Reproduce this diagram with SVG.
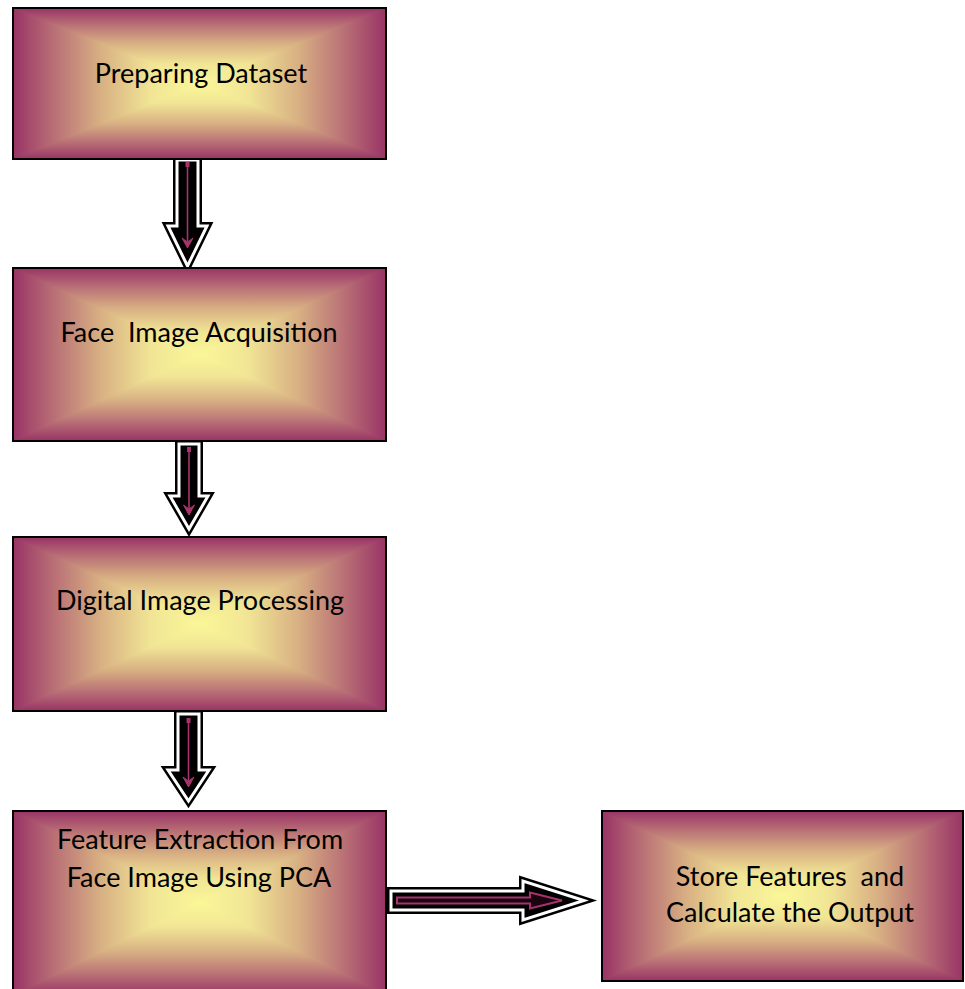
<svg xmlns="http://www.w3.org/2000/svg" xmlns:xlink="http://www.w3.org/1999/xlink" width="965" height="989" viewBox="0 0 965 989">
  <defs>
    <!-- rectangular (path) gradient: plum at the edges, pale yellow in the middle.
         Coordinates are in the 100x100 space of the boxFill symbol. -->
    <linearGradient id="gT" gradientUnits="userSpaceOnUse" x1="0" y1="0" x2="0" y2="50">
      <stop offset="0" stop-color="#993366"/>
      <stop offset="0.2" stop-color="#B66A74"/>
      <stop offset="0.47" stop-color="#D8B083"/>
      <stop offset="0.74" stop-color="#F1E595"/>
      <stop offset="1" stop-color="#FAF798"/>
    </linearGradient>
    <linearGradient id="gB" gradientUnits="userSpaceOnUse" x1="0" y1="100" x2="0" y2="50" xlink:href="#gT"/>
    <linearGradient id="gL" gradientUnits="userSpaceOnUse" x1="0" y1="0" x2="50" y2="0" xlink:href="#gT"/>
    <linearGradient id="gR" gradientUnits="userSpaceOnUse" x1="100" y1="0" x2="50" y2="0" xlink:href="#gT"/>
    <symbol id="boxFill" viewBox="0 0 100 100" preserveAspectRatio="none">
      <!-- top and bottom halves, then the side wedges laid over them -->
      <rect x="0" y="0" width="100" height="51" fill="url(#gT)"/>
      <rect x="0" y="49" width="100" height="51" fill="url(#gB)"/>
      <polygon points="0,0 0,100 50,50" fill="url(#gL)"/>
      <polygon points="100,0 100,100 50,50" fill="url(#gR)"/>
    </symbol>
  </defs>
  <style>
    .frame { fill: none; stroke: #000; stroke-width: 2; }
    .label { font-family: Lato, "Liberation Sans", sans-serif; font-size: 27px; fill: #000; text-anchor: middle; }
    .arrowOuter { fill: #000; stroke: #000; stroke-width: 8; stroke-linejoin: miter; }
    .arrowWhite { fill: none; stroke: #fff; stroke-width: 3; stroke-linejoin: miter; }
    .core { fill: none; stroke: #A8336C; stroke-width: 1.6; }
    .coreHead { fill: #A8336C; stroke: #A8336C; stroke-width: 1; }
    .coreOutline { fill: #1a0410; stroke: #A8336C; stroke-width: 2; }
  </style>
  <rect width="965" height="989" fill="#fff"/>

  <!-- connectors -->
  <g id="connectors">
    <!-- Preparing Dataset -> Face Image Acquisition -->
    <g id="c1">
      <polygon class="arrowOuter" points="177,160 198,160 198,226 207,226 187.5,266 168,226 177,226"/>
      <polygon class="arrowWhite" points="177,160 198,160 198,226 207,226 187.5,266 168,226 177,226"/>
      <rect x="185.5" y="162" width="4" height="5" fill="#A8336C"/>
      <line class="core" x1="187.5" y1="166" x2="187.5" y2="246"/>
      <polygon class="coreHead" points="182,238 187.5,248 193,238 187.5,242"/>
    </g>
    <!-- Face Image Acquisition -> Digital Image Processing -->
    <g id="c2">
      <polygon class="arrowOuter" points="179,444 199,444 199,496 208,496 189,529 170,496 179,496"/>
      <polygon class="arrowWhite" points="179,444 199,444 199,496 208,496 189,529 170,496 179,496"/>
      <rect x="187" y="447" width="4" height="5" fill="#A8336C"/>
      <line class="core" x1="189" y1="451" x2="189" y2="513"/>
      <polygon class="coreHead" points="183.5,505 189,515 194.5,505 189,509"/>
    </g>
    <!-- Digital Image Processing -> Feature Extraction -->
    <g id="c3">
      <polygon class="arrowOuter" points="178,714 199,714 199,770 209,770 188.5,801 168,770 178,770"/>
      <polygon class="arrowWhite" points="178,714 199,714 199,770 209,770 188.5,801 168,770 178,770"/>
      <rect x="186.5" y="718" width="4" height="5" fill="#A8336C"/>
      <line class="core" x1="188.5" y1="722" x2="188.5" y2="785"/>
      <polygon class="coreHead" points="183,777 188.5,787 194,777 188.5,781"/>
    </g>
    <!-- Feature Extraction -> Store Features -->
    <g id="c4">
      <polygon class="arrowOuter" points="391,891 523,891 523,881 584,900.5 523,920 523,910 391,910"/>
      <polygon class="arrowWhite" points="391,891 523,891 523,881 584,900.5 523,920 523,910 391,910"/>
      <path class="coreOutline" d="M397,897.5 H530 V892.5 L562,900.5 L530,908.5 V903.5 H397 Z"/>
    </g>
  </g>

  <!-- nodes -->
  <g id="n1">
    <use xlink:href="#boxFill" x="13" y="8" width="373" height="151"/>
    <rect class="frame" x="13" y="8" width="373" height="151"/>
    <text class="label" x="201" y="83">Preparing Dataset</text>
  </g>
  <g id="n2">
    <use xlink:href="#boxFill" x="13" y="268" width="373" height="173"/>
    <rect class="frame" x="13" y="268" width="373" height="173"/>
    <text class="label" x="199" y="342" xml:space="preserve">Face  Image Acquisition</text>
  </g>
  <g id="n3">
    <use xlink:href="#boxFill" x="13" y="537" width="373" height="174"/>
    <rect class="frame" x="13" y="537" width="373" height="174"/>
    <text class="label" x="200" y="610">Digital Image Processing</text>
  </g>
  <g id="n4">
    <use xlink:href="#boxFill" x="13" y="811" width="373" height="184"/>
    <rect class="frame" x="13" y="811" width="373" height="184"/>
    <text class="label" x="200" y="849">Feature Extraction From</text>
    <text class="label" x="199" y="887">Face Image Using PCA</text>
  </g>
  <g id="n5">
    <use xlink:href="#boxFill" x="602" y="811" width="361" height="170"/>
    <rect class="frame" x="602" y="811" width="361" height="170"/>
    <text class="label" x="790" y="886" xml:space="preserve">Store Features  and</text>
    <text class="label" x="790" y="922">Calculate the Output</text>
  </g>
</svg>
